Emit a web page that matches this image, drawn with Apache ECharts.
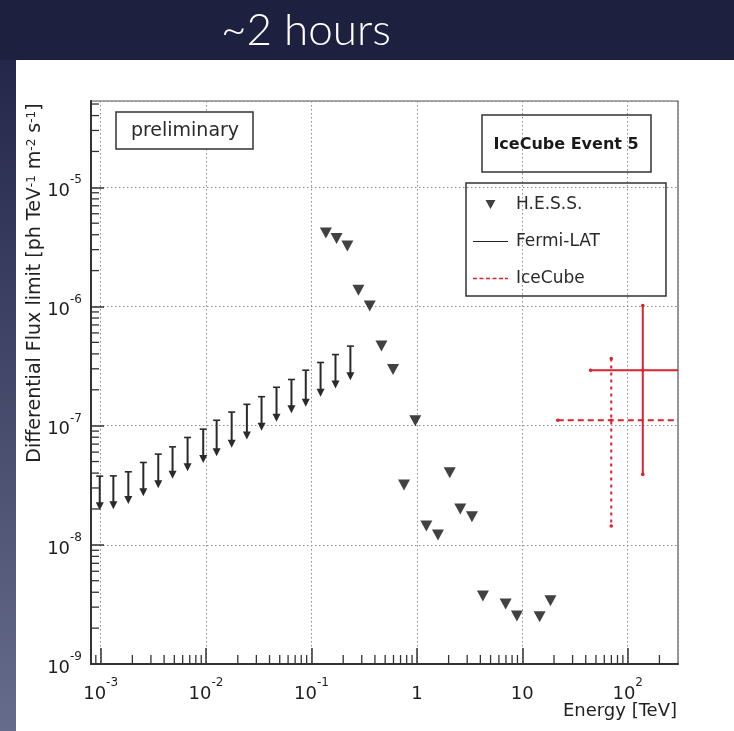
<!DOCTYPE html>
<html><head><meta charset="utf-8">
<script src="https://cdn.jsdelivr.net/npm/echarts@6/dist/echarts.min.js"></script>
<style>html,body{margin:0;padding:0;background:#ffffff}#c{width:734px;height:731px}</style>
</head><body><div id="c"></div>
<script>
// ---- axis ranges / tick labels ----
const xMin = 8.1e-4, xMax = 300;
const yMin = 1e-9, yMax = 5.3e-5;
const xTickValues = [1e-3, 1e-2, 1e-1, 1, 10, 100];
const xTickLabels = ['10^-3', '10^-2', '10^-1', '1', '10', '10^2'];
const yTickValues = [1e-9, 1e-8, 1e-7, 1e-6, 1e-5];
const yTickLabels = ['10^-9', '10^-8', '10^-7', '10^-6', '10^-5'];

// ---- H.E.S.S. upper limits (TeV, ph TeV^-1 m^-2 s^-1) ----
const hessEnergy = [0.137, 0.173, 0.219, 0.279, 0.357, 0.461, 0.594, 0.755, 0.966, 1.23, 1.585, 2.05, 2.58, 3.33, 4.23, 6.95, 8.89, 14.6, 18.5];
const hessFlux = [4.14e-6, 3.72e-6, 3.22e-6, 1.37e-6, 1.01e-6, 4.65e-7, 2.96e-7, 3.17e-8, 1.10e-7, 1.44e-8, 1.21e-8, 4.02e-8, 2.00e-8, 1.72e-8, 3.72e-9, 3.18e-9, 2.53e-9, 2.49e-9, 3.40e-9];

// ---- Fermi-LAT upper limits: UL value and arrow tip ----
const fermiEnergy = [0.00098, 0.00132, 0.00183, 0.00254, 0.00352, 0.00481, 0.00668, 0.0094, 0.0126, 0.0175, 0.0244, 0.0336, 0.0466, 0.0646, 0.0883, 0.122, 0.169, 0.234];
const fermiUL = [3.77e-8, 3.79e-8, 4.10e-8, 4.91e-8, 5.77e-8, 6.64e-8, 7.96e-8, 9.35e-8, 1.11e-7, 1.30e-7, 1.51e-7, 1.75e-7, 2.10e-7, 2.44e-7, 2.92e-7, 3.39e-7, 3.95e-7, 4.65e-7];
const fermiArrowEnd = [1.95e-8, 1.99e-8, 2.20e-8, 2.56e-8, 2.99e-8, 3.58e-8, 4.15e-8, 4.87e-8, 5.55e-8, 6.54e-8, 7.64e-8, 9.08e-8, 1.08e-7, 1.27e-7, 1.44e-7, 1.75e-7, 2.05e-7, 2.41e-7];

// ---- IceCube crosses: [dashed, solid] ----
const icecubeEnergy = [69.8, 139];
const icecubeEnergyLow = [21.7, 44.4];
const icecubeEnergyHigh = [400, 500];
const icecubeFlux = [1.11e-7, 2.92e-7];
const icecubeFluxLow = [1.44e-8, 3.9e-8];
const icecubeFluxHigh = [3.66e-7, 1.02e-6];

const FONT = 'DejaVu Sans';
const RED = '#d9232d';

function supLabel(s) {
  const i = s.indexOf('^');
  if (i < 0) return '{b|' + s + '}';
  return '{b|' + s.slice(0, i) + '}{s|' + s.slice(i + 1) + '}';
}
function makeFormatter(vals, labels) {
  return function (v) {
    for (let i = 0; i < vals.length; i++) {
      if (Math.abs(Math.log10(v) - Math.log10(vals[i])) < 1e-6) return supLabel(labels[i]);
    }
    return '';
  };
}
const labelRich = {
  b: { fontFamily: FONT, fontSize: 18, lineHeight: 26, verticalAlign: 'bottom', color: '#1e1e1e' },
  s: { fontFamily: FONT, fontSize: 12, lineHeight: 12, verticalAlign: 'top', color: '#1e1e1e' }
};

// minor tick positions (2..9 x 10^n) inside ranges
function minorTicks(lo, hi) {
  const out = [];
  for (let n = -10; n <= 3; n++) for (let k = 2; k <= 9; k++) {
    const v = k * Math.pow(10, n);
    if (v > lo && v < hi) out.push(v);
  }
  return out;
}
const xMinor = minorTicks(xMin, xMax);
const yMinor = minorTicks(yMin, yMax);

const fermiData = fermiEnergy.map((e, i) => [e, fermiUL[i], fermiArrowEnd[i]]);
const hessData = hessEnergy.map((e, i) => [e, hessFlux[i]]);
const iceData = icecubeEnergy.map((e, i) => [e, icecubeFlux[i], icecubeEnergyLow[i], icecubeEnergyHigh[i], icecubeFluxLow[i], icecubeFluxHigh[i]]);

function fermiRender(params, api) {
  const top = api.coord([api.value(0), api.value(1)]);
  const tip = api.coord([api.value(0), api.value(2)]);
  const col = '#2a2a2a';
  return {
    type: 'group',
    children: [
      { type: 'line', shape: { x1: top[0], y1: top[1], x2: tip[0], y2: tip[1] - 5 }, style: { stroke: col, lineWidth: 2 } },
      { type: 'line', shape: { x1: top[0] - 3.5, y1: top[1], x2: top[0] + 3.5, y2: top[1] }, style: { stroke: col, lineWidth: 1.6 } },
      { type: 'polygon', shape: { points: [[tip[0] - 4, tip[1] - 8], [tip[0] + 4, tip[1] - 8], [tip[0], tip[1]]] }, style: { fill: col } }
    ]
  };
}
function crossRender(dashed) {
  return function (params, api) {
    const cs = params.coordSys;
    const c = api.coord([api.value(0), api.value(1)]);
    const l = api.coord([api.value(2), api.value(1)]);
    const r = api.coord([api.value(3), api.value(1)]);
    const lo = api.coord([api.value(0), api.value(4)]);
    const hi = api.coord([api.value(0), api.value(5)]);
    const rx = Math.min(r[0], cs.x + cs.width);
    const hs = { stroke: RED, lineWidth: 2, lineDash: dashed ? [6, 4] : null };
    const vs = { stroke: RED, lineWidth: 2, lineDash: dashed ? [3, 4] : null };
    return {
      type: 'group',
      children: [
        { type: 'line', shape: { x1: l[0], y1: c[1], x2: rx, y2: c[1] }, style: hs },
        { type: 'line', shape: { x1: c[0], y1: hi[1], x2: c[0], y2: lo[1] }, style: vs },
        { type: 'circle', shape: { cx: l[0], cy: c[1], r: 1.8 }, style: { fill: RED } },
        { type: 'circle', shape: { cx: c[0], cy: hi[1], r: 1.8 }, style: { fill: RED } },
        { type: 'circle', shape: { cx: c[0], cy: lo[1], r: 1.8 }, style: { fill: RED } },
        { type: 'circle', shape: { cx: c[0], cy: c[1], r: 1.8 }, style: { fill: RED } }
      ]
    };
  };
}
function xMinorRender(params, api) {
  const p = api.coord([api.value(0), yMin]);
  return { type: 'line', shape: { x1: p[0], y1: p[1], x2: p[0], y2: p[1] - 9 }, style: { stroke: '#333', lineWidth: 1.3 } };
}
function yMinorRender(params, api) {
  const p = api.coord([xMin, api.value(1)]);
  return { type: 'line', shape: { x1: p[0], y1: p[1], x2: p[0] + 8, y2: p[1] }, style: { stroke: '#333', lineWidth: 1.3 } };
}

const chart = echarts.init(document.getElementById('c'), null, { renderer: 'canvas' });
chart.setOption({
  backgroundColor: '#ffffff',
  animation: false,
  grid: { left: 91, right: 56, top: 101, bottom: 67, show: true, borderColor: '#555', borderWidth: 1.2, backgroundColor: 'transparent' },
  xAxis: {
    type: 'log', logBase: 10, min: xMin, max: xMax,
    axisLine: { show: true, onZero: false, lineStyle: { color: '#333', width: 2 } },
    axisTick: { show: true, inside: true, length: 16, lineStyle: { color: '#333', width: 1.5 } },
    axisLabel: { showMinLabel: false, showMaxLabel: false, margin: 13, formatter: makeFormatter(xTickValues, xTickLabels), rich: labelRich },
    splitLine: { show: true, lineStyle: { color: '#8a8a8a', width: 1, type: [1.5, 2.5] } }
  },
  yAxis: {
    type: 'log', logBase: 10, min: yMin, max: yMax,
    axisLine: { show: true, onZero: false, lineStyle: { color: '#333', width: 2 } },
    axisTick: { show: true, inside: true, length: 13, lineStyle: { color: '#333', width: 1.5 } },
    axisLabel: { showMinLabel: true, showMaxLabel: false, margin: 9, formatter: makeFormatter(yTickValues, yTickLabels), rich: labelRich },
    splitLine: { show: true, lineStyle: { color: '#8a8a8a', width: 1, type: [1.5, 2.5] } }
  },
  legend: {
    orient: 'vertical', left: 466, top: 183,
    padding: [13, 66, 9, 7], itemGap: 20, itemWidth: 35, itemHeight: 14,
    borderColor: '#333', borderWidth: 1.5, backgroundColor: 'transparent',
    selectedMode: false, symbolKeepAspect: true,
    textStyle: { fontFamily: FONT, fontSize: 17, color: '#2a2a2a', padding: [0, 0, 0, 3] },
    data: [
      { name: 'H.E.S.S.', icon: 'path://M0,0M35,14M12.5,2.5L22.5,2.5L17.5,11.5Z' },
      { name: 'Fermi-LAT', icon: 'path://M0,0L35,0L35,1.2L0,1.2Z' },
      { name: 'IceCube', icon: 'path://M0,0h4v1.6h-4zM6.5,0h4v1.6h-4zM13,0h4v1.6h-4zM19.5,0h4v1.6h-4zM26,0h4v1.6h-4zM32,0h3v1.6h-3z' }
    ]
  },
  graphic: [
    { type: 'rect', z: -10, shape: { x: 0, y: 0, width: 734, height: 60 }, style: { fill: '#1e2040' } },
    { type: 'rect', z: -10, shape: { x: 0, y: 60, width: 16, height: 671 },
      style: { fill: new echarts.graphic.LinearGradient(0, 0, 0, 1, [{ offset: 0, color: '#24274a' }, { offset: 1, color: '#666c8c' }]) } },
    { type: 'text', z: 10, x: 306, y: 31, style: { text: '~2 hours', fill: '#ffffff', font: '300 44px Lato', textAlign: 'center', textVerticalAlign: 'middle' } },
    { type: 'rect', z: 10, shape: { x: 116, y: 112, width: 137, height: 37 }, style: { fill: '#ffffff', stroke: '#333', lineWidth: 1.5 } },
    { type: 'text', z: 11, x: 185, y: 131, style: { text: 'preliminary', fill: '#2a2a2a', font: '19px "DejaVu Sans"', textAlign: 'center', textVerticalAlign: 'middle' } },
    { type: 'rect', z: 10, shape: { x: 482, y: 115, width: 169, height: 57 }, style: { fill: 'transparent', stroke: '#333', lineWidth: 1.5 } },
    { type: 'text', z: 11, x: 566, y: 145, style: { text: 'IceCube Event 5', fill: '#1a1a1a', font: 'bold 16px "DejaVu Sans"', textAlign: 'center', textVerticalAlign: 'middle' } },
    { type: 'text', z: 10, x: 35, y: 283, rotation: Math.PI / 2,
      style: { text: 'Differential Flux limit [ph TeV{s|-1} m{s|-2} s{s|-1}]', fill: '#222', font: '19px "DejaVu Sans"', textAlign: 'center', textVerticalAlign: 'middle',
        rich: { s: { fontFamily: FONT, fontSize: 12, lineHeight: 12, verticalAlign: 'top', fill: '#222' } } } },
    { type: 'text', z: 10, x: 677, y: 711, style: { text: 'Energy [TeV]', fill: '#222', font: '18px "DejaVu Sans"', textAlign: 'right', textVerticalAlign: 'middle' } }
  ],
  series: [
    { name: 'xMinorTicks', type: 'custom', silent: true, renderItem: xMinorRender, data: xMinor.map(v => [v, yMin]), encode: { x: 0, y: 1 }, z: 3 },
    { name: 'yMinorTicks', type: 'custom', silent: true, renderItem: yMinorRender, data: yMinor.map(v => [xMin, v]), encode: { x: 0, y: 1 }, z: 3 },
    { name: 'Fermi-LAT', type: 'custom', renderItem: fermiRender, data: fermiData, encode: { x: 0, y: [1, 2] }, itemStyle: { color: '#222' }, z: 4 },
    { name: 'H.E.S.S.', type: 'scatter', data: hessData, symbol: 'path://M0,0L10,0L5,9Z', symbolSize: [12, 11], itemStyle: { color: '#111' }, z: 5 },
    { name: 'IceCube', type: 'custom', renderItem: crossRender(true), data: [iceData[0]], encode: { x: [0, 2], y: [1, 4, 5] }, itemStyle: { color: RED }, z: 6 },
    { name: 'IceCube (solid)', type: 'custom', renderItem: crossRender(false), data: [iceData[1]], encode: { x: [0, 2], y: [1, 4, 5] }, itemStyle: { color: RED }, z: 6 }
  ]
});
</script></body></html>
